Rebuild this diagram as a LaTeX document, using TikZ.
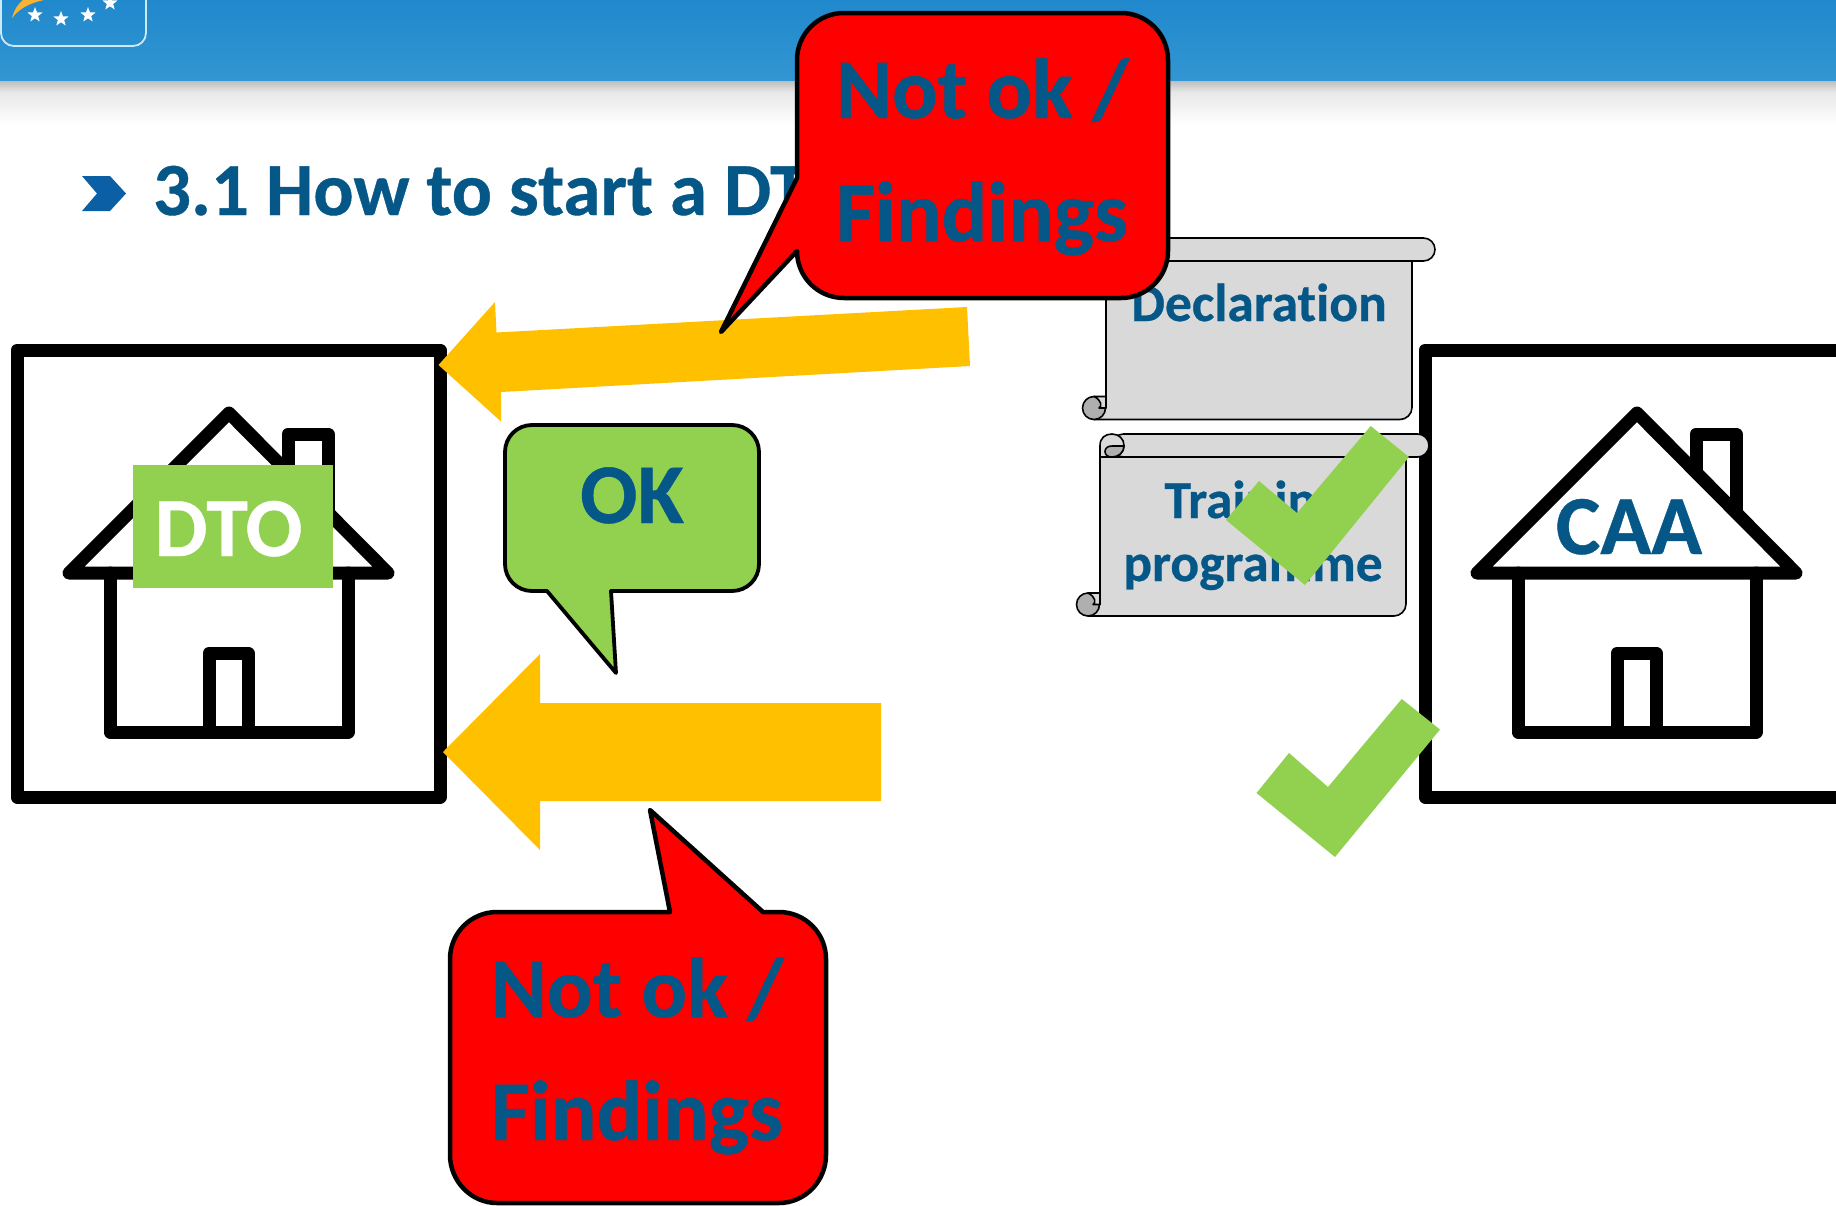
\documentclass[tikz,border=0pt]{standalone}
\usepackage{fontspec}
\setmainfont{Carlito}[Ligatures={NoCommon},BoldFeatures={FakeBold=0.5}]
\usetikzlibrary{shapes.geometric}
\definecolor{txtblue}{RGB}{5,87,135}
\definecolor{okgreen}{RGB}{146,208,80}
\definecolor{amber}{RGB}{255,192,0}
\definecolor{scrollgrey}{RGB}{217,217,217}
\definecolor{curlgrey}{RGB}{175,175,175}
\definecolor{bandtop}{RGB}{32,136,204}
\definecolor{bandbot}{RGB}{50,150,210}
\definecolor{logoline}{RGB}{205,232,247}
\definecolor{swoosh}{RGB}{249,178,51}
\definecolor{chevron}{RGB}{10,95,165}
\tikzset{
  framebox/.style={draw=black,line width=13pt,line join=round,fill=white},
  housepart/.style={draw=black,line width=13pt,line join=round,line cap=round},
  arrowblock/.style={fill=amber},
  tickmark/.style={fill=okgreen},
  bubble/.style={line width=4.5pt,line join=round,draw=black},
  scrollpart/.style={draw=black,line width=1.6pt,line join=round,fill=scrollgrey},
  curlpart/.style={draw=black,line width=1.6pt,line join=round,fill=curlgrey},
  txtlabel/.style={inner sep=0pt,outer sep=0pt,font=\bfseries,text=txtblue},
  staricon/.style={star,star points=5,star point ratio=2.4,fill=white,inner sep=0pt,minimum size=16pt},
}
\newcommand{\fsz}[1]{\fontsize{#1pt}{#1pt}\selectfont}
\newcommand{\myhouse}[1]{%
  \begin{scope}[xshift=#1pt]
    \draw[housepart,fill=white] (110,573) -- (110,732) -- (348,732) -- (348,573);
    \draw[housepart] (209,732) -- (209,653) -- (248,653) -- (248,732);
    \draw[housepart] (288,472) -- (288,434) -- (328,434) -- (328,512);
    \draw[housepart] (69,573) -- (229,413) -- (388,573) -- cycle;
  \end{scope}}
% left, right, top, bottom
\newcommand{\myscroll}[4]{%
  \path[scrollpart] (#1,#4-12) -- (#1,#3+23) -- (#2,#3+23) -- (#2,#4-12)
     .. controls (#2,#4-5) and (#2-6,#4) .. (#2-12,#4) -- (#1-12,#4) -- cycle;
  \path[scrollpart,rounded corners=11.5pt] (#1+12,#3) -- (#2+23,#3) -- (#2+23,#3+23) -- (#1+12,#3+23) -- cycle;
  \path[scrollpart] (#1,#3+23) -- (#1,#3+11.5) .. controls (#1,#3+4) and (#1+5,#3) .. (#1+12,#3)
     .. controls (#1+19,#3) and (#1+24,#3+5) .. (#1+24,#3+11.5) .. controls (#1+24,#3+18) and (#1+19,#3+23) .. (#1+12,#3+23) -- cycle;
  \path[curlpart] (#1+12,#3+12) -- (#1+24,#3+12) .. controls (#1+24,#3+18) and (#1+19,#3+23) .. (#1+12,#3+23)
     .. controls (#1+8,#3+23) and (#1+5,#3+21) .. (#1+5,#3+17.5) .. controls (#1+5,#3+14) and (#1+8,#3+12) .. (#1+12,#3+12) -- cycle;
  \path[curlpart] (#1-12,#4-11.5) circle[radius=11.5];
  \path[scrollpart] (#1-12,#4-23) -- (#1,#4-23) -- (#1,#4-11.5) -- (#1-7,#4-11.5)
     .. controls (#1-4,#4-13) and (#1-4,#4-19) .. (#1-12,#4-23) -- cycle;
}
\begin{document}
\begin{tikzpicture}[x=1pt,y=-1pt]
\useasboundingbox (0,0) rectangle (1836,1205);
\clip (0,0) rectangle (1836,1205);
\fill[white] (0,0) rectangle (1836,1205);
% header band and its shadow
\shade[top color=black!27,bottom color=black!9] (0,80) rectangle (1836,92);
\shade[top color=black!9,bottom color=white] (0,92) rectangle (1836,125);
\shade[top color=bandtop,bottom color=bandbot] (0,0) rectangle (1836,80);
% logo
\draw[draw=logoline,line width=1.8pt,rounded corners=13pt] (1,-25) -- (1,46) -- (146,46) -- (146,-25);
\fill[swoosh] (12,18) .. controls (14,10) and (18,4) .. (23,0) -- (44,0) .. controls (30,3) and (20,8) .. (12,18) -- cycle;
\node[staricon] (s1) at (35,15) {};
\node[staricon] (s2) at (61,19) {};
\node[staricon] (s3) at (88,15) {};
\node[staricon] (s4) at (110,3) {};
% title
\fill[chevron] (82,176) -- (110,176) -- (126,193.5) -- (110,211) -- (82,211) -- (97,193.5) -- cycle;
\node[txtlabel,anchor=base west] (title) at (153,215) {\fsz{75}3.1 How to start a DT};
% DTO
\draw[framebox] (17,350) rectangle (440,797);
\myhouse{0}
\fill[okgreen] (133,465) rectangle (333,588);
\node[txtlabel,text=white,anchor=base] (dto) at (228.5,556) {\fsz{84}DTO};
% CAA
\draw[framebox] (1425,350) rectangle (1900,797);
\myhouse{1408}
\node[txtlabel,anchor=base] (caa) at (1629,554) {\fsz{84}CAA};
% scrolls
\myscroll{1106}{1412}{238}{419.5}
\node[txtlabel,anchor=base] (decl) at (1259,321) {\fsz{53.5}Declaration};
\myscroll{1100}{1406}{434}{616}
\node[txtlabel,anchor=base] (train) at (1253,518) {\fsz{53.5}Training};
\node[txtlabel,anchor=base] (prog) at (1253,581) {\fsz{53.5}programme};
% ticks
\fill[tickmark] (1370.7,426) -- (1409,457) -- (1305,585) -- (1226,520) -- (1259,481) -- (1297,513) -- cycle;
\fill[tickmark] (1401.7,699) -- (1440,729.5) -- (1335,857) -- (1256.5,793) -- (1289,753) -- (1328,787) -- cycle;
% arrows
\fill[arrowblock] (438.5,365) -- (495,302) -- (496.5,332.5) -- (967,307) -- (970,366) -- (501,392) -- (501,421.5) -- cycle;
\fill[arrowblock] (443,752) -- (540,654) -- (540,703) -- (881,703) -- (881,801) -- (540,801) -- (540,850) -- cycle;
% bubbles
\draw[bubble,fill=red] (797,60) .. controls (797,34) and (818,13) .. (844,13) -- (1121,13) .. controls (1147,13) and (1168,34) .. (1168,60)
   -- (1168,251) .. controls (1168,277) and (1147,298) .. (1121,298) -- (844,298) .. controls (818,298) and (797,277) .. (797,251)
   -- (721,332) -- (797,178) -- cycle;
\node[txtlabel,anchor=base west] (f1a) at (836,118) {\fsz{85}Not ok /};
\node[txtlabel,anchor=base west] (f1b) at (836,241) {\fsz{85}Findings};
\draw[bubble,line width=3.8pt,fill=okgreen] (505,452) .. controls (505,437) and (517,425) .. (532,425) -- (732,425) .. controls (747,425) and (759,437) .. (759,452)
   -- (759,564) .. controls (759,579) and (747,591) .. (732,591) -- (611,591) -- (616,673) -- (547,591) -- (532,591) .. controls (517,591) and (505,579) .. (505,564) -- cycle;
\node[txtlabel,anchor=base] (ok) at (632,523) {\fsz{85}OK};
\draw[bubble,fill=red] (450,959) .. controls (450,933) and (471,912) .. (497,912) -- (670,912) -- (650,810) -- (763,912) -- (779,912) .. controls (805,912) and (826,933) .. (826,959)
   -- (826,1155) .. controls (826,1181) and (805,1203) .. (779,1203) -- (497,1203) .. controls (471,1203) and (450,1181) .. (450,1155) -- cycle;
\node[txtlabel,anchor=base west] (f2a) at (491,1017) {\fsz{85}Not ok /};
\node[txtlabel,anchor=base west] (f2b) at (491,1140) {\fsz{85}Findings};
\end{tikzpicture}
\end{document}
